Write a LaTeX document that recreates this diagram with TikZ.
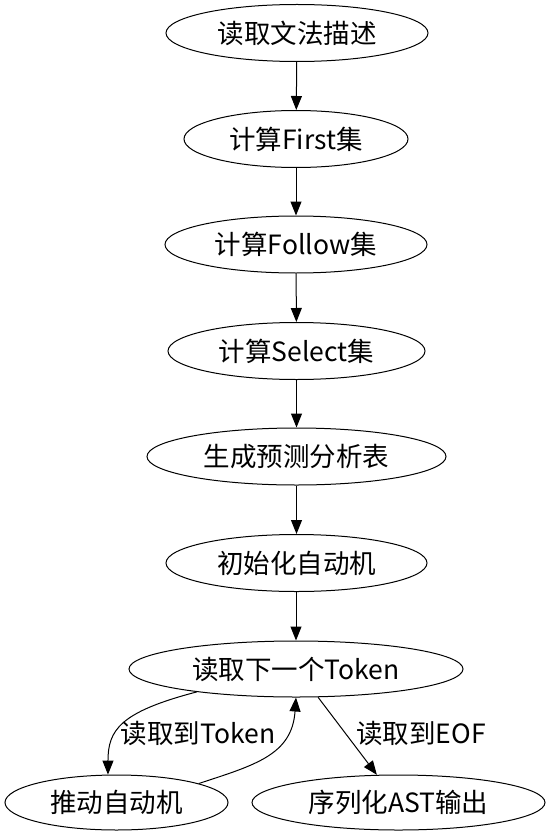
\documentclass[tikz,border=0pt]{standalone}
\usepackage{fontspec}
\newfontfamily\cjkf{Noto Sans CJK SC}
\usetikzlibrary{shapes.geometric,arrows.meta}
\tikzset{
  box/.style={draw, ellipse, line width=1pt, inner sep=0pt,
    minimum height=57pt, font=\cjkf\fontsize{26.5}{30}\selectfont},
  lab/.style={inner sep=0pt, font=\cjkf\fontsize{26.5}{30}\selectfont},
  conn/.style={line width=1pt, -{Triangle[length=14pt,width=11pt]}}
}
\begin{document}
\begin{tikzpicture}[x=1pt,y=-1pt]
\useasboundingbox (0,0) rectangle (549,837);
\node[box, minimum width=262pt] (n1) at (297,33) {读取文法描述};
\node[box, minimum width=224pt] (n2) at (296,139) {计算First集};
\node[box, minimum width=262pt] (n3) at (296,244.5) {计算Follow集};
\node[box, minimum width=257pt] (n4) at (296.5,351) {计算Select集};
\node[box, minimum width=299pt] (n5) at (296.5,456.5) {生成预测分析表};
\node[box, minimum width=261pt] (n6) at (296.5,563) {初始化自动机};
\node[box, minimum width=334pt, minimum height=56pt] (tok) at (296,669) {读取下一个Token};
\node[box, minimum width=223pt, minimum height=55pt] (push) at (116.5,802.5) {推动自动机};
\node[box, minimum width=293pt, minimum height=55pt] (ast) at (398.5,802.5) {序列化AST输出};
\draw[conn] (n1) -- (n2);
\draw[conn] (n2) -- (n3);
\draw[conn] (n3) -- (n4);
\draw[conn] (n4) -- (n5);
\draw[conn] (n5) -- (n6);
\draw[conn] (n6.south -| tok.north) -- (tok.north);
\draw[conn] (tok.193) .. controls (120,712) and (108,730) .. (push.107);
\draw[conn] (push.13) .. controls (255,765) and (292,755) .. (tok.south);
\draw[conn] (tok.308) -- (ast.128);
\node[lab] (l1) at (198,733) {读取到Token};
\node[lab] (l2) at (421,733) {读取到EOF};
\end{tikzpicture}
\end{document}
